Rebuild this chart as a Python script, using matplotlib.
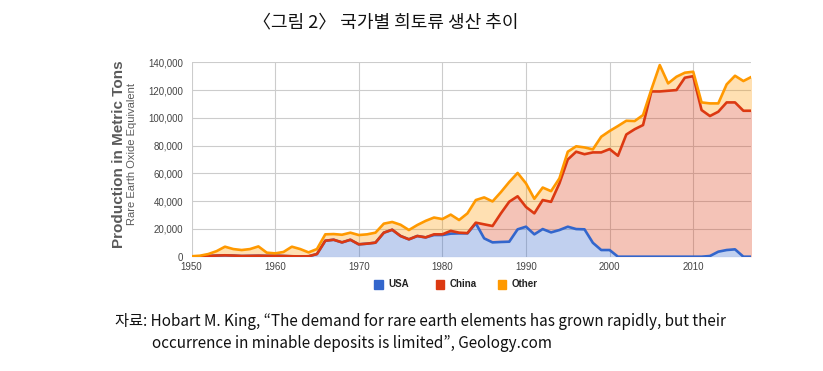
import matplotlib
matplotlib.use("Agg")
import matplotlib.pyplot as plt
import numpy as np
from matplotlib.patches import Rectangle

years = list(range(1950, 2018))

usa = [0, 200, 500, 800, 1000, 800, 500, 600, 700, 600,
       700, 500, 300, 200, 300, 1900, 11500, 12200, 10300, 12200,
       8900, 9400, 10100, 17300, 19400, 14900, 12500, 14900, 13900, 15600,
       15600, 16600, 16800, 16800, 24000, 13200, 10300, 10600, 10800, 19700,
       21600, 16100, 19900, 17500, 19200, 21600, 19900, 19700, 10000, 4800,
       4800, 0, 0, 0, 0, 0, 0, 0, 0, 0,
       0, 0, 500, 3600, 4800, 5300, 0, 0]

china = [0, 0, 0, 0, 0, 0, 0, 0, 0, 0,
         0, 0, 0, 0, 0, 0, 0, 0, 0, 0,
         0, 0, 0, 0, 0, 0, 0, 0, 0, 500,
         500, 2000, 500, 200, 500, 10100, 11800, 20600, 28800, 23800,
         14200, 15100, 20900, 22000, 33600, 48400, 55700, 54100, 65100, 70300,
         72700, 72700, 88000, 91800, 94800, 119000, 119000, 119500, 120000, 128900,
         130000, 105600, 100800, 100800, 106300, 105800, 105100, 105100]

other = [300, 500, 1400, 3200, 6200, 4700, 4300, 4900, 6700, 2300,
         1700, 2900, 6900, 5300, 2800, 3600, 4600, 4100, 5500, 5100,
         6700, 6700, 7200, 6500, 5600, 8100, 6700, 7900, 11900, 12100,
         11000, 11700, 9100, 14200, 16300, 19400, 17700, 15300, 14200, 16800,
         17000, 10500, 9000, 7700, 3600, 5600, 3900, 4900, 2200, 11300,
         13000, 21400, 9900, 5900, 7200, 1500, 19000, 5300, 9600, 3600,
         3200, 5500, 9100, 6000, 13000, 19200, 21400, 24500]

series_names = ["USA", "China", "Other"]
line_colors = ["#3366cc", "#dc3912", "#ff9900"]
yticks = [0, 20000, 40000, 60000, 80000, 100000, 120000, 140000]
xticks = [1950, 1960, 1970, 1980, 1990, 2000, 2010]

fig = plt.figure(figsize=(8.23, 3.71), dpi=100)
ax = fig.add_axes([0.2327, 0.3081, 0.6797, 0.5240])

x = np.array(years)
stack = [np.array(usa), np.array(china), np.array(other)]
bottom = np.zeros(len(years))
tops = []
for vals, col in zip(stack, line_colors):
    top = bottom + vals
    ax.fill_between(x, bottom, top, color=col, alpha=0.3, linewidth=0, zorder=2)
    tops.append(top)
    bottom = top
for top, col in zip(tops, line_colors):
    ax.plot(x, top, color=col, linewidth=1.9, zorder=3, solid_joinstyle="round")

ax.set_xlim(1950, 2016.9)
ax.set_ylim(0, 140000)
ax.set_yticks(yticks)
ax.set_yticklabels([f"{v:,}" for v in yticks])
ax.set_xticks(xticks)
ax.set_xticklabels([str(v) for v in xticks])
ax.grid(True, color="#cccccc", linewidth=0.8, zorder=0)
ax.set_axisbelow(True)
for s in ax.spines.values():
    s.set_visible(False)
ax.tick_params(length=0, labelsize=7, labelcolor="#444444", pad=6)
for lab in ax.get_xticklabels() + ax.get_yticklabels():
    lab.set_fontfamily("Liberation Sans")
ax.tick_params(axis="x", pad=4)

fig.text(119 / 823, 1 - 154 / 371, "Production in Metric Tons", rotation=90,
         ha="center", va="center", fontsize=11, fontweight="bold",
         color="#5a5a5a", family="Liberation Sans")
fig.text(132 / 823, 1 - 154 / 371, "Rare Earth Oxide Equivalent", rotation=90,
         ha="center", va="center", fontsize=8, color="#5a5a5a",
         family="Liberation Sans")

# legend
leg_y = 1 - 284 / 371
sq_x = [378, 440, 502]
for sx, name, col in zip(sq_x, series_names, line_colors):
    fig.patches.append(Rectangle(((sx - 4.5) / 823, leg_y - 4.5 / 371), 9 / 823, 9 / 371,
                                 transform=fig.transFigure, color=col, figure=fig))
    fig.text((sx + 10) / 823, leg_y, name, ha="left", va="center", fontsize=7,
             color="#222222", family="Liberation Sans", fontweight="bold")

fig.text(386 / 823, 1 - 22 / 371, "〈그림 2〉 국가별 희토류 생산 추이", ha="center", va="center",
         fontsize=13, color="#111111", family=["Noto Sans CJK KR", "DejaVu Sans"])

fig.text(115 / 823, 1 - 321 / 371,
         "자료: Hobart M. King, “The demand for rare earth elements has grown rapidly, but their",
         ha="left", va="center", fontsize=11, color="#111111",
         family=["Noto Sans CJK KR", "DejaVu Sans"])
fig.text(152 / 823, 1 - 343 / 371,
         "occurrence in minable deposits is limited”, Geology.com",
         ha="left", va="center", fontsize=11, color="#111111",
         family=["Noto Sans CJK KR", "DejaVu Sans"])

fig.savefig("out.png", dpi=100, facecolor="white")
